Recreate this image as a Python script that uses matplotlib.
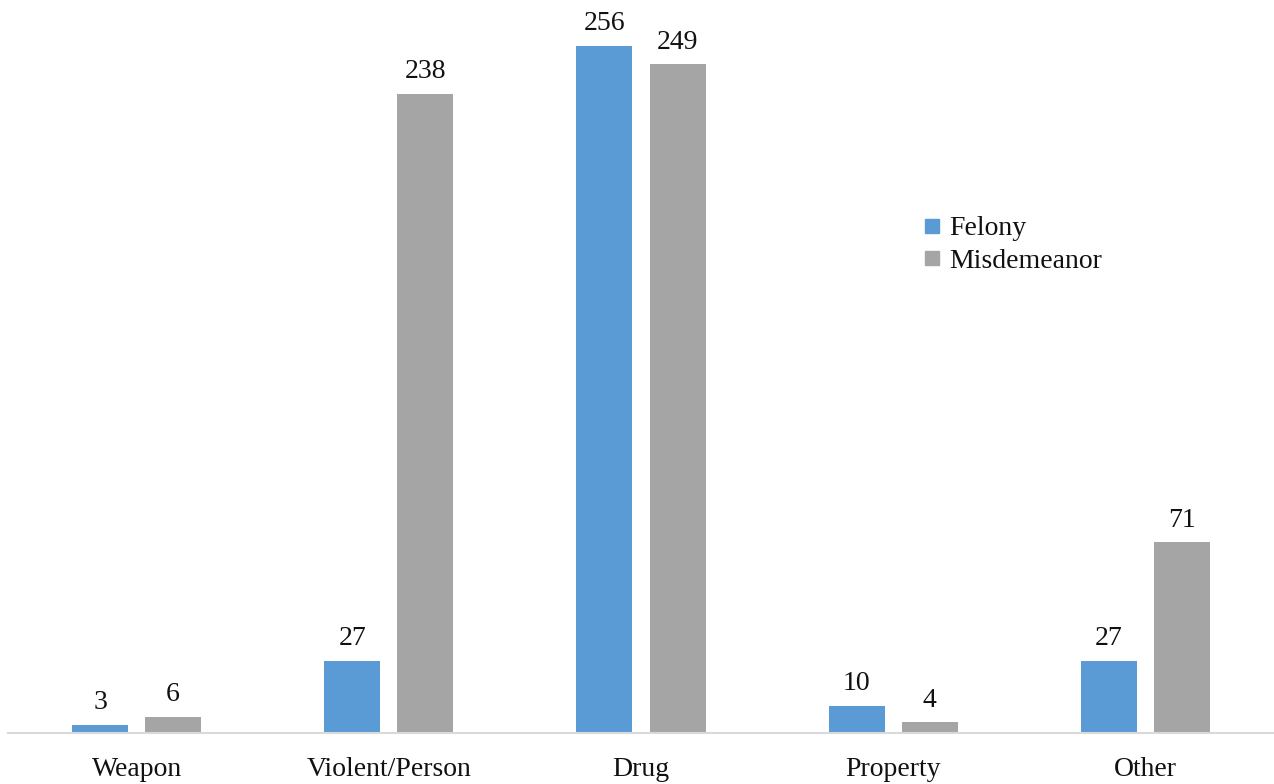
import matplotlib.pyplot as plt
import numpy as np
from matplotlib.lines import Line2D

plt.rcParams['font.family'] = ['Liberation Serif', 'DejaVu Serif']

categories = ['Weapon', 'Violent/Person', 'Drug', 'Property', 'Other']
felony = [3, 27, 256, 10, 27]
misdemeanor = [6, 238, 249, 4, 71]

blue = '#5b9bd5'
grey = '#a5a5a5'

fig = plt.figure(figsize=(12.74, 7.84), dpi=100)
ax = fig.add_axes([8 / 1274, 51 / 784, 1266 / 1274, 733 / 784])

x = np.arange(len(categories))
w = 0.222
off = 0.145
b1 = ax.bar(x - off, felony, w, color=blue)
b2 = ax.bar(x + off, misdemeanor, w, color=grey)

# value labels above each bar
for bars, vals in ((b1, felony), (b2, misdemeanor)):
    for b, v in zip(bars, vals):
        ax.annotate(str(v), (b.get_x() + b.get_width() / 2, v),
                    xytext=(0, 7), textcoords='offset points',
                    ha='center', va='bottom', fontsize=20, color='#111111')

ax.set_xlim(-0.51, 4.51)
ax.set_ylim(0, 273)
ax.set_xticks(x)
ax.set_xticklabels(categories, fontsize=20, color='#111111')
ax.tick_params(axis='x', length=0, pad=17)
ax.set_yticks([])
for s in ('top', 'right', 'left'):
    ax.spines[s].set_visible(False)
ax.spines['bottom'].set_color('#d9d9d9')
ax.spines['bottom'].set_linewidth(1.5)

handles = [Line2D([], [], marker='s', linestyle='none', markersize=10, color=blue),
           Line2D([], [], marker='s', linestyle='none', markersize=10, color=grey)]
fig.legend(handles, ['Felony', 'Misdemeanor'], loc='upper left',
           bbox_to_anchor=(924 / 1274, 1 - 216 / 784), frameon=False,
           fontsize=20, handlelength=0.6, handletextpad=0.3,
           labelspacing=0.25, borderpad=0, borderaxespad=0, labelcolor='#111111')

fig.savefig('out.png', dpi=100)
